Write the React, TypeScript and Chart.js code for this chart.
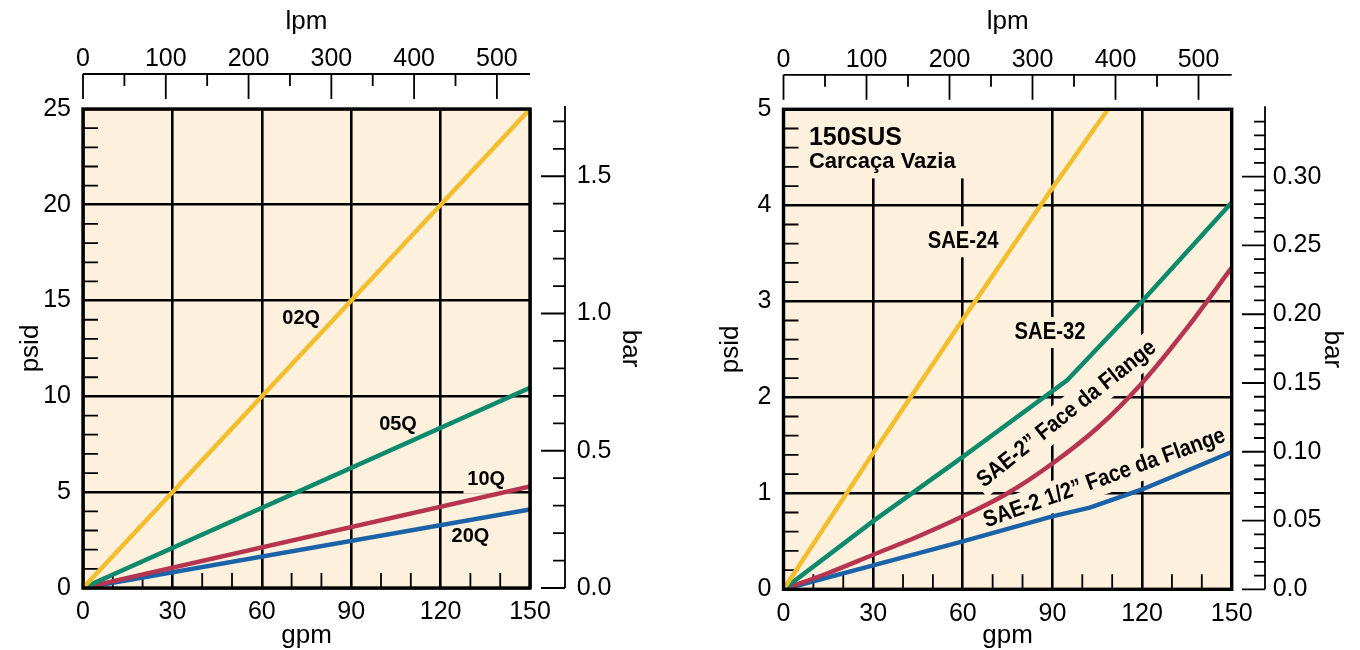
import React, { useEffect, useRef } from 'react';
import { Chart, registerables } from 'chart.js';

Chart.register(...registerables);

const FAMILY = "'Liberation Sans', Arial, Helvetica, sans-serif";
const CREAM = '#FDF0DC';
const INK = '#000000';
const YELLOW = '#F3BD2B';
const GREEN = '#0C8A6B';
const RED = '#B6344F';
const BLUE = '#1A63A8';

// ---------------- left chart: filter element series (gpm -> psid) ----------------
const leftGpm = [0, 150];
const psid02Q = [0, 25];
const psid05Q = [0, 10.45];
const psid10Q = [0, 5.3];
const psid20Q = [0, 4.1];

// ---------------- right chart: housing series (gpm -> psid) ----------------
const gpmSae24 = [0, 30, 60, 90, 108.6];
const psidSae24 = [0, 1.42, 2.81, 4.18, 5.0];
const gpmSae32 = [0, 30, 60, 95, 120, 150];
const psidSae32 = [0, 0.71, 1.38, 2.18, 3.0, 4.03];
const gpmFlange2 = [0, 15, 30, 45, 60, 75, 90, 105, 120, 135, 150];
const psidFlange2 = [0, 0.17, 0.36, 0.55, 0.76, 1.0, 1.31, 1.68, 2.15, 2.72, 3.35];
const gpmFlange25 = [0, 30, 60, 90, 102.5, 120, 150];
const psidFlange25 = [0, 0.25, 0.5, 0.76, 0.85, 1.04, 1.43];

// ---------------- ticks ----------------
const gpmTicks = [0, 30, 60, 90, 120, 150];
const leftPsidTicks = [0, 5, 10, 15, 20, 25];
const rightPsidTicks = [0, 1, 2, 3, 4, 5];
const lpmTicks = [0, 100, 200, 300, 400, 500];
const leftBarTicks = [0, 0.5, 1.0, 1.5];
const rightBarTicks = [0, 0.05, 0.1, 0.15, 0.2, 0.25, 0.3];
const LEFT_BAR_MAX = 1.745;
const RIGHT_BAR_MAX = 0.349;
const LPM_AXIS_MAX = 540;

type Ann = {
  text: string;
  gx: number;
  gy: number;
  size: number;
  sx?: number;
  align?: 'left' | 'center';
  rot?: number;
  box?: [number, number, number, number] | 'none';
};

type Deco = {
  gpmMinorStep: number;
  psiMinorStep: number;
  minorLen: number;
  lpmMinorStep: number;
  lpmGap: number;
  lpmMajorLen: number;
  lpmMinorLen: number;
  barMinorStep: number;
  barMajors: number[];
  barGap: number;
  barMajorLen: number;
  barMinorLen: number;
  anns: Ann[];
};

type Series = { gpm: number[]; psid: number[]; color: string; smooth?: boolean };

type Panel = {
  psidMax: number;
  psidTicks: number[];
  barMax: number;
  barTicks: number[];
  barLabel: (v: number) => string;
  yWidth: number;
  xHeight: number;
  topHeight: number;
  rightWidth: number;
  yTickPad: number;
  xTickPad: number;
  topTickPad: number;
  rightTickPad: number;
  psidTitlePad: number;
  barTitlePad: number;
  series: Series[];
  deco: Deco;
};

const leftAnns: Ann[] = [
  { text: '02Q', gx: 73.2, gy: 14.08, size: 21, sx: 0.95 },
  { text: '05Q', gx: 105.7, gy: 8.57, size: 21, sx: 0.95 },
  { text: '10Q', gx: 135.3, gy: 5.68, size: 21, sx: 0.95 },
  { text: '20Q', gx: 130, gy: 2.7, size: 21, sx: 0.95 },
];

const rightAnns: Ann[] = [
  { text: '150SUS', gx: 8.5, gy: 4.7, size: 25, align: 'left', box: [7.6, 5, 63.2, 4.28] },
  { text: 'Carcaça Vazia', gx: 8.5, gy: 4.456, size: 22, align: 'left', box: 'none' },
  { text: 'SAE-24', gx: 60.1, gy: 3.62, size: 23, sx: 0.88 },
  { text: 'SAE-32', gx: 89.2, gy: 2.675, size: 23, sx: 0.88 },
  { text: 'SAE-2\u201D Face da Flange', gx: 94.8, gy: 1.826, size: 23, sx: 0.88, rot: 38.5 },
  { text: 'SAE-2 1/2\u201D Face da Flange', gx: 107.4, gy: 1.156, size: 23, sx: 0.88, rot: 19.8 },
];

function placeText(ctx: CanvasRenderingContext2D, an: Ann, x: any, y: any) {
  ctx.translate(x.getPixelForValue(an.gx), y.getPixelForValue(an.gy));
  ctx.rotate((-(an.rot ?? 0) * Math.PI) / 180);
  ctx.scale(an.sx ?? 1, 1);
  ctx.font = `bold ${an.size}px ${FAMILY}`;
}

function isMajor(v: number, majors: number[], step: number) {
  return majors.some((m) => Math.abs(m - v) < step * 1e-3);
}

function makeDeco(d: Deco, psidTicks: number[]) {
  return {
    id: 'deco',
    beforeDraw(chart: any) {
      const { ctx, chartArea: a } = chart;
      ctx.save();
      ctx.fillStyle = CREAM;
      ctx.fillRect(a.left, a.top, a.right - a.left, a.bottom - a.top);
      ctx.restore();
    },
    beforeDatasetsDraw(chart: any) {
      const { ctx, chartArea: a, scales } = chart;
      const x = scales.x;
      const y = scales.y;
      ctx.save();
      // label backgrounds (hide grid lines)
      for (const an of d.anns) {
        if (an.box === 'none') continue;
        ctx.fillStyle = CREAM;
        if (an.box) {
          const [g0, p0, g1, p1] = an.box;
          const X0 = x.getPixelForValue(g0);
          const X1 = x.getPixelForValue(g1);
          const Y0 = y.getPixelForValue(p0);
          const Y1 = y.getPixelForValue(p1);
          ctx.fillRect(Math.min(X0, X1), Math.min(Y0, Y1), Math.abs(X1 - X0), Math.abs(Y1 - Y0));
        } else {
          ctx.save();
          placeText(ctx, an, x, y);
          const w = ctx.measureText(an.text).width;
          const x0 = an.align === 'left' ? 0 : -w / 2;
          ctx.fillRect(x0 - 4, -an.size * 0.5 - 4, w + 8, an.size + 8);
          ctx.restore();
        }
      }
      // inner minor ticks
      ctx.strokeStyle = INK;
      ctx.lineWidth = 1.8;
      ctx.beginPath();
      for (let i = 0; ; i++) {
        const v = i * d.psiMinorStep;
        if (v > y.max + 1e-9) break;
        if (isMajor(v, psidTicks, d.psiMinorStep)) continue;
        const py = y.getPixelForValue(v);
        ctx.moveTo(a.left, py);
        ctx.lineTo(a.left + d.minorLen, py);
      }
      for (let i = 0; ; i++) {
        const v = i * d.gpmMinorStep;
        if (v > x.max + 1e-9) break;
        if (isMajor(v, gpmTicks, d.gpmMinorStep)) continue;
        const px = x.getPixelForValue(v);
        ctx.moveTo(px, a.bottom);
        ctx.lineTo(px, a.bottom - d.minorLen);
      }
      ctx.stroke();
      ctx.restore();
    },
    afterDatasetsDraw(chart: any) {
      const { ctx, chartArea: a, scales } = chart;
      const x = scales.x;
      const y = scales.y;
      const x2 = scales.x2;
      const y2 = scales.y2;
      ctx.save();
      // labels
      for (const an of d.anns) {
        ctx.save();
        placeText(ctx, an, x, y);
        ctx.fillStyle = INK;
        ctx.textBaseline = 'middle';
        ctx.textAlign = an.align === 'left' ? 'left' : 'center';
        ctx.fillText(an.text, 0, 0);
        ctx.restore();
      }
      // plot frame
      ctx.strokeStyle = INK;
      ctx.lineWidth = 3.4;
      ctx.strokeRect(a.left, a.top, a.right - a.left, a.bottom - a.top);

      // top lpm axis
      ctx.lineWidth = 1.8;
      ctx.beginPath();
      const ly = a.top - d.lpmGap;
      ctx.moveTo(a.left, ly);
      ctx.lineTo(a.right, ly);
      for (let i = 0; ; i++) {
        const v = i * d.lpmMinorStep;
        if (v > x2.max + 1e-9) break;
        const px = x2.getPixelForValue(v);
        const len = isMajor(v, lpmTicks, d.lpmMinorStep) ? d.lpmMajorLen : d.lpmMinorLen;
        ctx.moveTo(px, ly);
        ctx.lineTo(px, ly + len);
      }
      ctx.stroke();

      // right bar axis
      ctx.beginPath();
      const bx = a.right + d.barGap;
      ctx.moveTo(bx, a.top - 3);
      ctx.lineTo(bx, a.bottom);
      for (let i = 0; ; i++) {
        const v = i * d.barMinorStep;
        if (v > y2.max + 1e-9) break;
        const py = y2.getPixelForValue(v);
        const len = isMajor(v, d.barMajors, d.barMinorStep) ? d.barMajorLen : d.barMinorLen;
        ctx.moveTo(bx, py);
        ctx.lineTo(bx - len, py);
      }
      ctx.stroke();
      ctx.restore();
    },
  };
}

function fixTicks(vals: number[]) {
  return (s: any) => {
    s.ticks = vals.map((v) => ({ value: v }));
  };
}

function buildConfig(p: Panel): any {
  const tickFont = { family: FAMILY, size: 25 };
  const titleFont = { family: FAMILY, size: 26 };
  return {
    type: 'line',
    data: {
      datasets: p.series.map((s) => ({
        data: s.gpm.map((g, i) => ({ x: g, y: s.psid[i] })),
        borderColor: s.color,
        borderWidth: 4.5,
        pointRadius: 0,
        tension: 0,
        cubicInterpolationMode: s.smooth ? 'monotone' : 'default',
        fill: false,
        clip: 0,
        xAxisID: 'x',
        yAxisID: 'y',
      })),
    },
    options: {
      animation: false,
      responsive: false,
      devicePixelRatio: 1,
      events: [],
      layout: { padding: 0 },
      plugins: { legend: { display: false }, tooltip: { enabled: false } },
      scales: {
        x: {
          type: 'linear',
          position: 'bottom',
          min: 0,
          max: 150,
          afterBuildTicks: fixTicks(gpmTicks),
          ticks: { font: tickFont, color: INK, padding: p.xTickPad, autoSkip: false, maxRotation: 0, callback: (v: any) => String(v) },
          grid: { color: INK, lineWidth: 2.6, drawTicks: false },
          border: { display: false },
          title: { display: true, text: 'gpm', font: titleFont, color: INK, padding: { top: 0, bottom: -1.5 } },
          afterFit: (s: any) => {
            s.height = p.xHeight;
          },
        },
        y: {
          type: 'linear',
          position: 'left',
          min: 0,
          max: p.psidMax,
          afterBuildTicks: fixTicks(p.psidTicks),
          ticks: { font: tickFont, color: INK, padding: p.yTickPad, autoSkip: false, callback: (v: any) => String(v) },
          grid: { color: INK, lineWidth: 2.6, drawTicks: false },
          border: { display: false },
          title: { display: true, text: 'psid', font: titleFont, color: INK, padding: { top: p.psidTitlePad, bottom: 0 } },
          afterFit: (s: any) => {
            s.width = p.yWidth;
          },
        },
        x2: {
          type: 'linear',
          position: 'top',
          min: 0,
          max: LPM_AXIS_MAX,
          afterBuildTicks: fixTicks(lpmTicks),
          ticks: { font: tickFont, color: INK, padding: p.topTickPad, autoSkip: false, maxRotation: 0, callback: (v: any) => String(v) },
          grid: { display: false, drawTicks: false },
          border: { display: false },
          title: { display: true, text: 'lpm', font: titleFont, color: INK, padding: { top: 5.8, bottom: 0 } },
          afterFit: (s: any) => {
            s.height = p.topHeight;
          },
        },
        y2: {
          type: 'linear',
          position: 'right',
          min: 0,
          max: p.barMax,
          afterBuildTicks: fixTicks(p.barTicks),
          ticks: { font: tickFont, color: INK, padding: p.rightTickPad, autoSkip: false, callback: (v: any) => p.barLabel(Number(v)) },
          grid: { display: false, drawTicks: false },
          border: { display: false },
          title: { display: true, text: 'bar', font: titleFont, color: INK, padding: { top: p.barTitlePad, bottom: 0 } },
          afterFit: (s: any) => {
            s.width = p.rightWidth;
          },
        },
      },
    },
    plugins: [makeDeco(p.deco, p.psidTicks)],
  };
}

const leftPanel: Panel = {
  psidMax: 25,
  psidTicks: leftPsidTicks,
  barMax: LEFT_BAR_MAX,
  barTicks: leftBarTicks,
  barLabel: (v) => v.toFixed(1),
  yWidth: 83,
  xHeight: 62,
  topHeight: 109,
  rightWidth: 150,
  yTickPad: 12,
  xTickPad: 9.6,
  topTickPad: 35,
  rightTickPad: 46.7,
  psidTitlePad: 15.4,
  barTitlePad: 34.4,
  series: [
    { gpm: leftGpm, psid: psid02Q, color: YELLOW },
    { gpm: leftGpm, psid: psid05Q, color: GREEN },
    { gpm: leftGpm, psid: psid10Q, color: RED },
    { gpm: leftGpm, psid: psid20Q, color: BLUE },
  ],
  deco: {
    gpmMinorStep: 10,
    psiMinorStep: 1,
    minorLen: 15,
    lpmMinorStep: 50,
    lpmGap: 35,
    lpmMajorLen: 25,
    lpmMinorLen: 12,
    barMinorStep: 0.1,
    barMajors: leftBarTicks,
    barGap: 35,
    barMajorLen: 24,
    barMinorLen: 12,
    anns: leftAnns,
  },
};

const rightPanel: Panel = {
  psidMax: 5,
  psidTicks: rightPsidTicks,
  barMax: RIGHT_BAR_MAX,
  barTicks: rightBarTicks,
  barLabel: (v) => (v === 0 ? '0.0' : v.toFixed(2)),
  yWidth: 103.5,
  xHeight: 60.7,
  topHeight: 109.3,
  rightWidth: 128.3,
  yTickPad: 12,
  xTickPad: 9.6,
  topTickPad: 34.5,
  rightTickPad: 41,
  psidTitlePad: 35.4,
  barTitlePad: 12.4,
  series: [
    { gpm: gpmSae24, psid: psidSae24, color: YELLOW },
    { gpm: gpmSae32, psid: psidSae32, color: GREEN },
    { gpm: gpmFlange2, psid: psidFlange2, color: RED, smooth: true },
    { gpm: gpmFlange25, psid: psidFlange25, color: BLUE },
  ],
  deco: {
    gpmMinorStep: 10,
    psiMinorStep: 0.2,
    minorLen: 15,
    lpmMinorStep: 50,
    lpmGap: 34.5,
    lpmMajorLen: 25,
    lpmMinorLen: 12,
    barMinorStep: 0.01,
    barMajors: rightBarTicks,
    barGap: 33.3,
    barMajorLen: 23,
    barMinorLen: 11,
    anns: rightAnns,
  },
};

function PanelChart({ panel, left }: { panel: Panel; left: number }) {
  const ref = useRef<HTMLCanvasElement | null>(null);
  useEffect(() => {
    if (!ref.current) return;
    const chart = new Chart(ref.current, buildConfig(panel));
    return () => chart.destroy();
  }, [panel]);
  return (
    <canvas
      ref={ref}
      width={680}
      height={650}
      style={{ position: 'absolute', left, top: 0, width: 680, height: 650 }}
    />
  );
}

export default function App() {
  return (
    <div
      style={{
        position: 'fixed',
        left: 0,
        top: 0,
        width: 1360,
        height: 650,
        background: '#ffffff',
        overflow: 'hidden',
      }}
    >
      <PanelChart panel={leftPanel} left={0} />
      <PanelChart panel={rightPanel} left={680} />
    </div>
  );
}
